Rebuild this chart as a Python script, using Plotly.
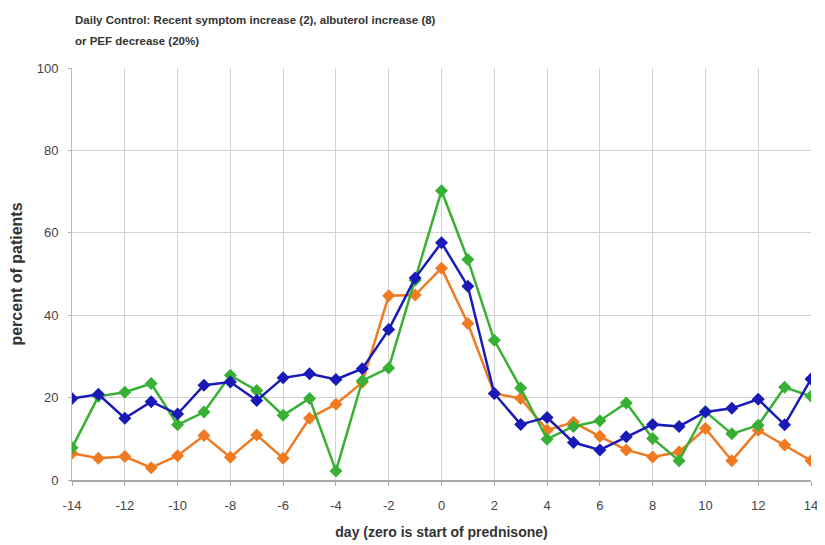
import plotly.graph_objects as go

days = list(range(-14, 15))

blue = [19.8, 20.8, 15.0, 19.0, 16.0, 23.0, 23.8, 19.3, 24.8, 25.8, 24.4, 27.0, 36.5, 49.0,
        57.6, 47.0, 21.0, 13.5, 15.2, 9.1, 7.3, 10.5, 13.5, 13.0, 16.5, 17.4, 19.6, 13.4, 24.5]
orange = [6.5, 5.3, 5.7, 3.0, 5.9, 10.8, 5.5, 10.9, 5.3, 15.0, 18.4, 23.7, 44.7, 44.9,
          51.4, 38.0, 21.0, 19.8, 12.1, 14.0, 10.6, 7.3, 5.6, 6.8, 12.5, 4.7, 12.1, 8.5, 4.7]
green = [7.8, 20.3, 21.3, 23.4, 13.4, 16.5, 25.4, 21.7, 15.7, 19.8, 2.2, 24.1, 27.2, 48.5,
         70.2, 53.5, 33.9, 22.3, 9.9, 13.0, 14.4, 18.7, 10.1, 4.7, 16.6, 11.2, 13.3, 22.5, 20.3]

y_ticks = [0, 20, 40, 60, 80, 100]
x_ticks = list(range(-14, 15, 2))

title_lines = ["Daily Control: Recent symptom increase (2), albuterol increase (8)",
               "or PEF decrease (20%)"]

series = [
    ("orange", orange, "#F07A22"),
    ("green", green, "#37B034"),
    ("blue", blue, "#1A1AB8"),
]

fig = go.Figure()
for name, vals, col in series:
    fig.add_trace(go.Scatter(
        x=days, y=vals, mode="lines+markers", name=name,
        line=dict(color=col, width=2.5),
        marker=dict(symbol="diamond", size=10, color=col),
        showlegend=False,
    ))

base_font = "Liberation Sans, Arial, sans-serif"

W, H = 817, 537
ML, MR, MT, MB = 58, 7, 60, 63
plot_h = H - MT - MB

fig.update_layout(
    width=W, height=H,
    margin=dict(l=ML, r=MR, t=MT, b=MB),
    paper_bgcolor="white", plot_bgcolor="white",
    font=dict(family=base_font, size=13, color="#444444"),
)

for txt, fig_y in zip(title_lines, [12, 33]):
    fig.add_annotation(
        text="<b>" + txt + "</b>", xref="paper", yref="paper",
        x=0, xshift=1, y=1 + (MT - fig_y) / plot_h,
        xanchor="left", yanchor="middle", showarrow=False,
        font=dict(family=base_font, size=11.5, color="#333333"),
    )

fig.update_xaxes(
    range=[-14, 14], tickvals=x_ticks, ticktext=[str(v) for v in x_ticks],
    showgrid=True, gridcolor="#D2D2D2", gridwidth=1,
    showline=True, linecolor="#AAAAAA", linewidth=2,
    ticks="outside", ticklen=4, tickcolor="#AAAAAA",
    ticklabelstandoff=8, ticklabeloverflow="allow",
    zeroline=False,
    title=dict(text="<b>day (zero is start of prednisone)</b>",
               font=dict(size=14, color="#333333"), standoff=16),
)
fig.update_yaxes(
    range=[0, 100], tickvals=y_ticks,
    showgrid=True, gridcolor="#D2D2D2", gridwidth=1,
    showline=True, linecolor="#BBBBBB", linewidth=1,
    ticks="outside", ticklen=3, tickcolor="#AAAAAA",
    ticklabelstandoff=7,
    zeroline=False,
    title=dict(text="<b>percent of patients</b>",
               font=dict(size=16, color="#333333"), standoff=10),
)

fig.write_html("out.html")
